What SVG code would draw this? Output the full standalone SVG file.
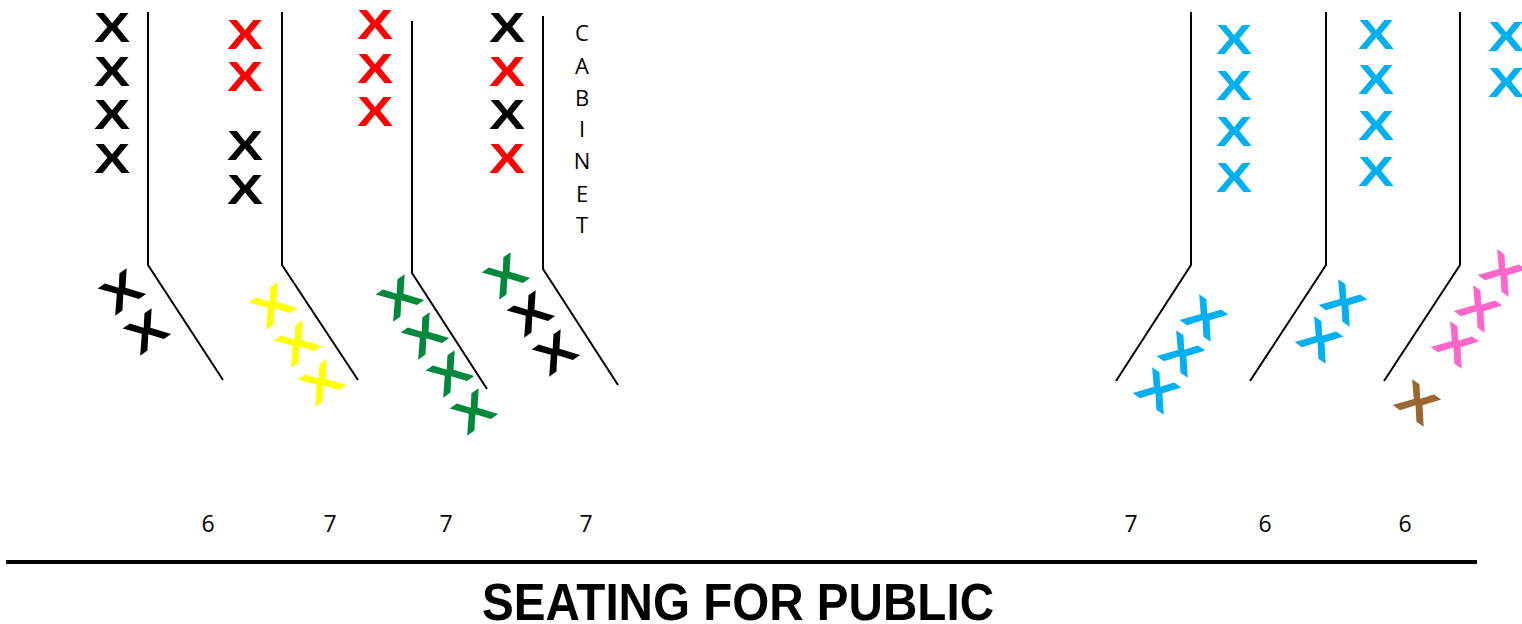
<svg xmlns="http://www.w3.org/2000/svg" width="1522" height="624" viewBox="0 0 1522 624">
<style>
.x{font-family:"Liberation Sans",Arial,sans-serif;font-weight:bold;font-size:43px;text-anchor:middle}
.s{font-size:47px}
.k{fill:#000}.r{fill:#FF0000}.y{fill:#FFFF00}.g{fill:#00893D}.b{fill:#00B0F0}.p{fill:#FF66CC}.n{fill:#9A6631}
.ln{fill:none;stroke:#000;stroke-width:2}
.lab{font-family:"Open Sans","Liberation Sans",sans-serif;font-size:22px;text-anchor:middle;fill:#000}
.num{font-family:"Open Sans","Liberation Sans",sans-serif;font-size:23px;text-anchor:middle;fill:#000}
.title{font-family:"Liberation Sans",Arial,sans-serif;font-weight:bold;font-size:52px;text-anchor:middle;fill:#000}
</style>
<rect width="1522" height="624" fill="#fff"/>
<g id="connectors">
<polyline class="ln" points="148,12 148,265 223,380"/>
<polyline class="ln" points="282,12 282,265 358,380"/>
<polyline class="ln" points="412,21 412,273 487,389"/>
<polyline class="ln" points="543,16 543,269 618,385"/>
<polyline class="ln" points="1191,12 1191,265 1116,381"/>
<polyline class="ln" points="1326,12 1326,265 1250,381"/>
<polyline class="ln" points="1460,12 1460,265 1384,381"/>
<line x1="6" y1="562" x2="1477" y2="562" stroke="#000" stroke-width="4"/>
</g>
<g id="col1">
<text class="x k" y="15.5" transform="translate(112,26) scale(1.26,1)">X</text>
<text class="x k" y="15.5" transform="translate(112,70) scale(1.26,1)">X</text>
<text class="x k" y="15.5" transform="translate(112,113) scale(1.26,1)">X</text>
<text class="x k" y="15.5" transform="translate(112,157) scale(1.26,1)">X</text>
</g>
<g id="col2">
<text class="x r" y="15.5" transform="translate(245,33) scale(1.26,1)">X</text>
<text class="x r" y="15.5" transform="translate(245,75) scale(1.26,1)">X</text>
<text class="x k" y="15.5" transform="translate(245,144) scale(1.26,1)">X</text>
<text class="x k" y="15.5" transform="translate(245,188) scale(1.26,1)">X</text>
</g>
<g id="col3">
<text class="x r" y="15.5" transform="translate(375,23) scale(1.26,1)">X</text>
<text class="x r" y="15.5" transform="translate(375,67) scale(1.26,1)">X</text>
<text class="x r" y="15.5" transform="translate(375,110) scale(1.26,1)">X</text>
</g>
<g id="col4">
<text class="x k" y="15.5" transform="translate(507,26) scale(1.26,1)">X</text>
<text class="x r" y="15.5" transform="translate(507,70) scale(1.26,1)">X</text>
<text class="x k" y="15.5" transform="translate(507,113) scale(1.26,1)">X</text>
<text class="x r" y="15.5" transform="translate(507,157) scale(1.26,1)">X</text>
</g>
<g id="cabinet">
<text class="lab" x="582" y="41">C</text>
<text class="lab" x="582" y="74">A</text>
<text class="lab" x="582" y="106">B</text>
<text class="lab" x="582" y="137">I</text>
<text class="lab" x="582" y="169">N</text>
<text class="lab" x="582" y="202">E</text>
<text class="lab" x="582" y="233">T</text>
</g>
<g id="colR1">
<text class="x b" y="15.5" transform="translate(1234,38) scale(1.26,1)">X</text>
<text class="x b" y="15.5" transform="translate(1234,84) scale(1.26,1)">X</text>
<text class="x b" y="15.5" transform="translate(1234,130) scale(1.26,1)">X</text>
<text class="x b" y="15.5" transform="translate(1234,176) scale(1.26,1)">X</text>
</g>
<g id="colR2">
<text class="x b" y="15.5" transform="translate(1376,33) scale(1.26,1)">X</text>
<text class="x b" y="15.5" transform="translate(1376,78) scale(1.26,1)">X</text>
<text class="x b" y="15.5" transform="translate(1376,124) scale(1.26,1)">X</text>
<text class="x b" y="15.5" transform="translate(1376,170) scale(1.26,1)">X</text>
</g>
<g id="colR3">
<text class="x b" y="15.5" transform="translate(1506,35) scale(1.26,1)">X</text>
<text class="x b" y="15.5" transform="translate(1506,81) scale(1.26,1)">X</text>
</g>
<g id="slant1">
<text class="x s k" y="17" transform="translate(121,291) rotate(-35) scale(1.24,1)">X</text>
<text class="x s k" y="17" transform="translate(146,331) rotate(-35) scale(1.24,1)">X</text>
</g>
<g id="slant2">
<text class="x s y" y="17" transform="translate(272,305) rotate(-35) scale(1.24,1)">X</text>
<text class="x s y" y="17" transform="translate(297,343) rotate(-35) scale(1.24,1)">X</text>
<text class="x s y" y="17" transform="translate(321,382) rotate(-35) scale(1.24,1)">X</text>
</g>
<g id="slant3">
<text class="x s g" y="17" transform="translate(399,297) rotate(-35) scale(1.24,1)">X</text>
<text class="x s g" y="17" transform="translate(424,335) rotate(-35) scale(1.24,1)">X</text>
<text class="x s g" y="17" transform="translate(449,373) rotate(-35) scale(1.24,1)">X</text>
<text class="x s g" y="17" transform="translate(473,411) rotate(-35) scale(1.24,1)">X</text>
</g>
<g id="slant4">
<text class="x s g" y="17" transform="translate(505,275) rotate(-35) scale(1.24,1)">X</text>
<text class="x s k" y="17" transform="translate(530,313) rotate(-35) scale(1.24,1)">X</text>
<text class="x s k" y="17" transform="translate(555,352) rotate(-35) scale(1.24,1)">X</text>
</g>
<g id="slantR1">
<text class="x s b" y="17" transform="translate(1205,317) rotate(35) scale(1.24,1)">X</text>
<text class="x s b" y="17" transform="translate(1182,353) rotate(35) scale(1.24,1)">X</text>
<text class="x s b" y="17" transform="translate(1158,390) rotate(35) scale(1.24,1)">X</text>
</g>
<g id="slantR2">
<text class="x s b" y="17" transform="translate(1344,302) rotate(35) scale(1.24,1)">X</text>
<text class="x s b" y="17" transform="translate(1320,339) rotate(35) scale(1.24,1)">X</text>
</g>
<g id="slantR3">
<text class="x s n" y="17" transform="translate(1418,402) rotate(35) scale(1.24,1)">X</text>
<text class="x s p" y="17" transform="translate(1456,344) rotate(35) scale(1.24,1)">X</text>
<text class="x s p" y="17" transform="translate(1479,308) rotate(35) scale(1.24,1)">X</text>
<text class="x s p" y="17" transform="translate(1503,272) rotate(35) scale(1.24,1)">X</text>
</g>
<g id="numbers">
<text class="num" x="208" y="532">6</text>
<text class="num" x="330" y="532">7</text>
<text class="num" x="446" y="532">7</text>
<text class="num" x="586" y="532">7</text>
<text class="num" x="1131" y="532">7</text>
<text class="num" x="1265" y="532">6</text>
<text class="num" x="1405" y="532">6</text>
</g>
<g id="title">
<text class="title" x="738" y="620" textLength="512" lengthAdjust="spacingAndGlyphs">SEATING FOR PUBLIC</text>
</g>
</svg>
